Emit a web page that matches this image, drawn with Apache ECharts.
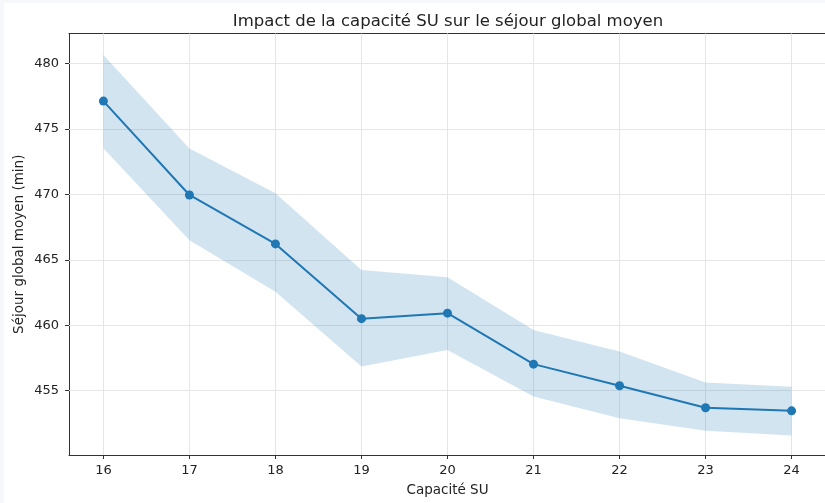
<!DOCTYPE html>
<html>
<head>
<meta charset="utf-8">
<script src="https://cdn.jsdelivr.net/npm/echarts@6/dist/echarts.min.js"></script>
<style>
  html, body { margin: 0; padding: 0; width: 825px; height: 503px; background: #f5f7fa; overflow: hidden; }
  #chart { position: absolute; left: 4px; top: 3px; width: 821px; height: 500px; background: #ffffff; }
</style>
</head>
<body>
<div id="chart"></div>
<script>
const capacites = [16, 17, 18, 19, 20, 21, 22, 23, 24];
const sejourMoyen = [477.12, 469.95, 466.21, 460.50, 460.92, 457.03, 455.38, 453.70, 453.46];
const bandeHaute = [480.63, 473.50, 470.08, 464.22, 463.66, 459.64, 457.99, 455.62, 455.31];
const bandeBasse = [473.51, 466.50, 462.56, 456.84, 458.11, 454.55, 452.90, 451.95, 451.57];
const yTicks = [455, 460, 465, 470, 475, 480];
const xTicks = capacites;

const FONT = 'DejaVu Sans';
const chart = echarts.init(document.getElementById('chart'), null, { renderer: 'canvas' });

const gridLines = [];
xTicks.forEach(v => gridLines.push({ xAxis: v }));
yTicks.forEach(v => gridLines.push({ yAxis: v }));

const X_MIN = 15.6, X_MAX = 24.4, Y_MIN = 450.09, Y_MAX = 482.28;

chart.setOption({
  animation: false,
  backgroundColor: '#ffffff',
  title: {
    text: 'Impact de la capacité SU sur le séjour global moyen',
    left: 444, top: 10, textAlign: 'center', padding: 0,
    textStyle: { fontFamily: FONT, fontSize: 16.5, fontWeight: 'normal', color: '#222' }
  },
  grid: {
    left: 65, top: 30.5, width: 757, height: 421.5,
    show: false, containLabel: false, outerBoundsMode: 'none'
  },
  xAxis: [{
    type: 'value', min: X_MIN, max: X_MAX,
    name: 'Capacité SU', nameLocation: 'middle', nameGap: 28,
    nameTextStyle: { fontFamily: FONT, fontSize: 13.5, color: '#222' },
    axisLine: { show: true, onZero: false, lineStyle: { color: '#333', width: 1 } },
    axisTick: { show: true, length: 4, customValues: xTicks, lineStyle: { color: '#333' } },
    axisLabel: { customValues: xTicks, fontFamily: FONT, fontSize: 13, color: '#222', margin: 9 },
    splitLine: { show: false }
  }, {
    type: 'value', position: 'top', min: X_MIN, max: X_MAX,
    axisLine: { show: true, onZero: false, lineStyle: { color: '#333', width: 1 } },
    axisTick: { show: false }, axisLabel: { show: false }, splitLine: { show: false }
  }],
  yAxis: {
    type: 'value', min: Y_MIN, max: Y_MAX,
    name: 'Séjour global moyen (min)', nameLocation: 'middle', nameGap: 43,
    nameMoveOverlap: false,
    nameTextStyle: { fontFamily: FONT, fontSize: 13.5, color: '#222' },
    axisLine: { show: true, onZero: false, lineStyle: { color: '#333', width: 1 } },
    axisTick: { show: true, length: 4, customValues: yTicks, lineStyle: { color: '#333' } },
    axisLabel: { customValues: yTicks, fontFamily: FONT, fontSize: 13, color: '#222', margin: 10 },
    splitLine: { show: false }
  },
  series: [
    {
      type: 'line', data: [], silent: true, z: 1,
      markLine: {
        silent: true, symbol: ['none', 'none'], animation: false, z: 1,
        label: { show: false },
        lineStyle: { color: '#e6e6e6', type: 'solid', width: 1 },
        emphasis: { disabled: true },
        data: gridLines
      }
    },
    {
      type: 'custom', z: 2, silent: true,
      data: [0],
      renderItem: function (params, api) {
        const pts = [];
        capacites.forEach((c, i) => pts.push(api.coord([c, bandeHaute[i]])));
        for (let i = capacites.length - 1; i >= 0; i--) pts.push(api.coord([capacites[i], bandeBasse[i]]));
        return {
          type: 'polygon',
          shape: { points: pts },
          style: { fill: 'rgba(31,119,180,0.2)', stroke: 'none' }
        };
      }
    },
    {
      type: 'line', z: 3,
      symbol: 'circle', symbolSize: 9,
      itemStyle: { color: '#1f77b4' },
      lineStyle: { color: '#1f77b4', width: 2 },
      data: capacites.map((c, i) => [c, sejourMoyen[i]])
    }
  ]
});
</script>
</body>
</html>
